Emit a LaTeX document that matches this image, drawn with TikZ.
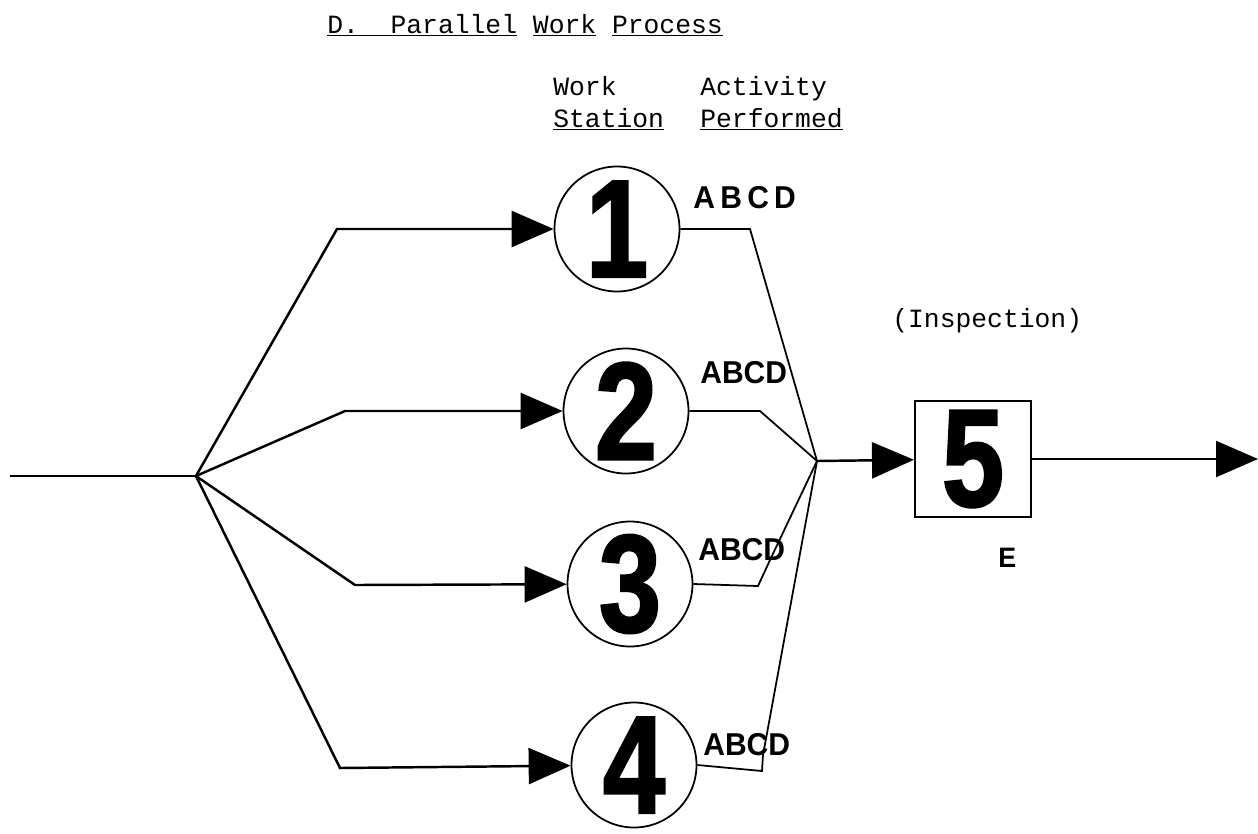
\documentclass[tikz,border=0pt]{standalone}
\usepackage{fontspec}
\setmonofont{Liberation Mono}
\setsansfont{Liberation Sans}
\newfontfamily\digitfont{Liberation Sans Bold}[FakeStretch=0.8,FakeBold=1.8]
\newfontfamily\labfont{Liberation Sans Bold}[FakeStretch=0.95]
\usetikzlibrary{arrows.meta}
\begin{document}
\begin{tikzpicture}[x=0.02cm,y=-0.02cm,
  ln/.style={line width=1.4pt},
  thinln/.style={line width=1pt},
  arr/.style={ln,-{Triangle[length=0.84cm,width=0.72cm]}},
  station/.style={circle,draw,line width=1pt,minimum size=2.5cm,inner sep=0pt,font=\digitfont\fontsize{79}{80}\selectfont},
  tw/.style={font=\ttfamily\fontsize{15}{18}\selectfont,inner sep=0pt,anchor=base west},
  act/.style={font=\labfont\fontsize{18}{20}\selectfont,inner sep=0pt,anchor=base west},
]
\useasboundingbox (0,0) rectangle (1258,833);

% texts
\node[tw] (title) at (327,33) {\underline{D.\ \ Parallel}\ \underline{Work}\ \underline{Process}};
\node[tw] (work) at (553,95) {Work};
\node[tw] (station) at (553,127) {\underline{Station}};
\node[tw] (activity) at (700,95) {Activity};
\node[tw] (performed) at (700,127) {\underline{Performed}};
\node[tw] (insp) at (892,327) {(Inspection)};

% stations
\node[station] (c1) at (617,229) {1};
\node[station] (c2) at (626,411) {2};
\node[station] (c3) at (630,584) {3};
\node[station] (c4) at (634,765) {4};
\node[draw,line width=1.2pt,minimum size=2.32cm,inner sep=0pt,font=\digitfont\fontsize{79}{80}\selectfont] (sq) at (973,459) {5};

\node[act] (a1) at (693,208) {A\kern3pt B\kern3pt C\kern3pt D};
\node[act] (a2) at (700,383) {ABCD};
\node[act] (a3) at (698,560) {ABCD};
\node[act] (a4) at (703,755) {ABCD};
\node[font=\labfont\fontsize{16}{18}\selectfont,inner sep=0pt,anchor=base west] (e) at (998,567) {E};

% coordinates
\coordinate (in) at (10,476);
\coordinate (j1) at (196,476);
\coordinate (k1) at (337,229);
\coordinate (k2) at (345,411);
\coordinate (k3) at (355,585);
\coordinate (k4) at (340,768);
\coordinate (m1) at (750,229);
\coordinate (m2) at (760,411);
\coordinate (m3a) at (758,586);
\coordinate (m3b) at (770,560);
\coordinate (m4a) at (762,771);
\coordinate (m4b) at (763,755);
\coordinate (j2) at (817,461);
\coordinate (out) at (1258,459);

% connectors
\draw[ln] (in) -- (j1);
\draw[arr] (j1) -- (k1) -- (c1);
\draw[arr] (j1) -- (k2) -- (c2);
\draw[arr] (j1) -- (k3) -- (c3);
\draw[arr] (j1) -- (k4) -- (c4);
\draw[thinln] (c1.east) -- (m1) -- (j2);
\draw[thinln] (c2.east) -- (m2) -- (j2);
\draw[thinln] (c3.east) -- (m3a) -- (m3b) -- (j2);
\draw[thinln] (c4.east) -- (m4a) -- (m4b) -- (j2);
\draw[arr] (j2) -- (sq);
\draw[arr] (sq) -- (out);
\end{tikzpicture}
\end{document}
